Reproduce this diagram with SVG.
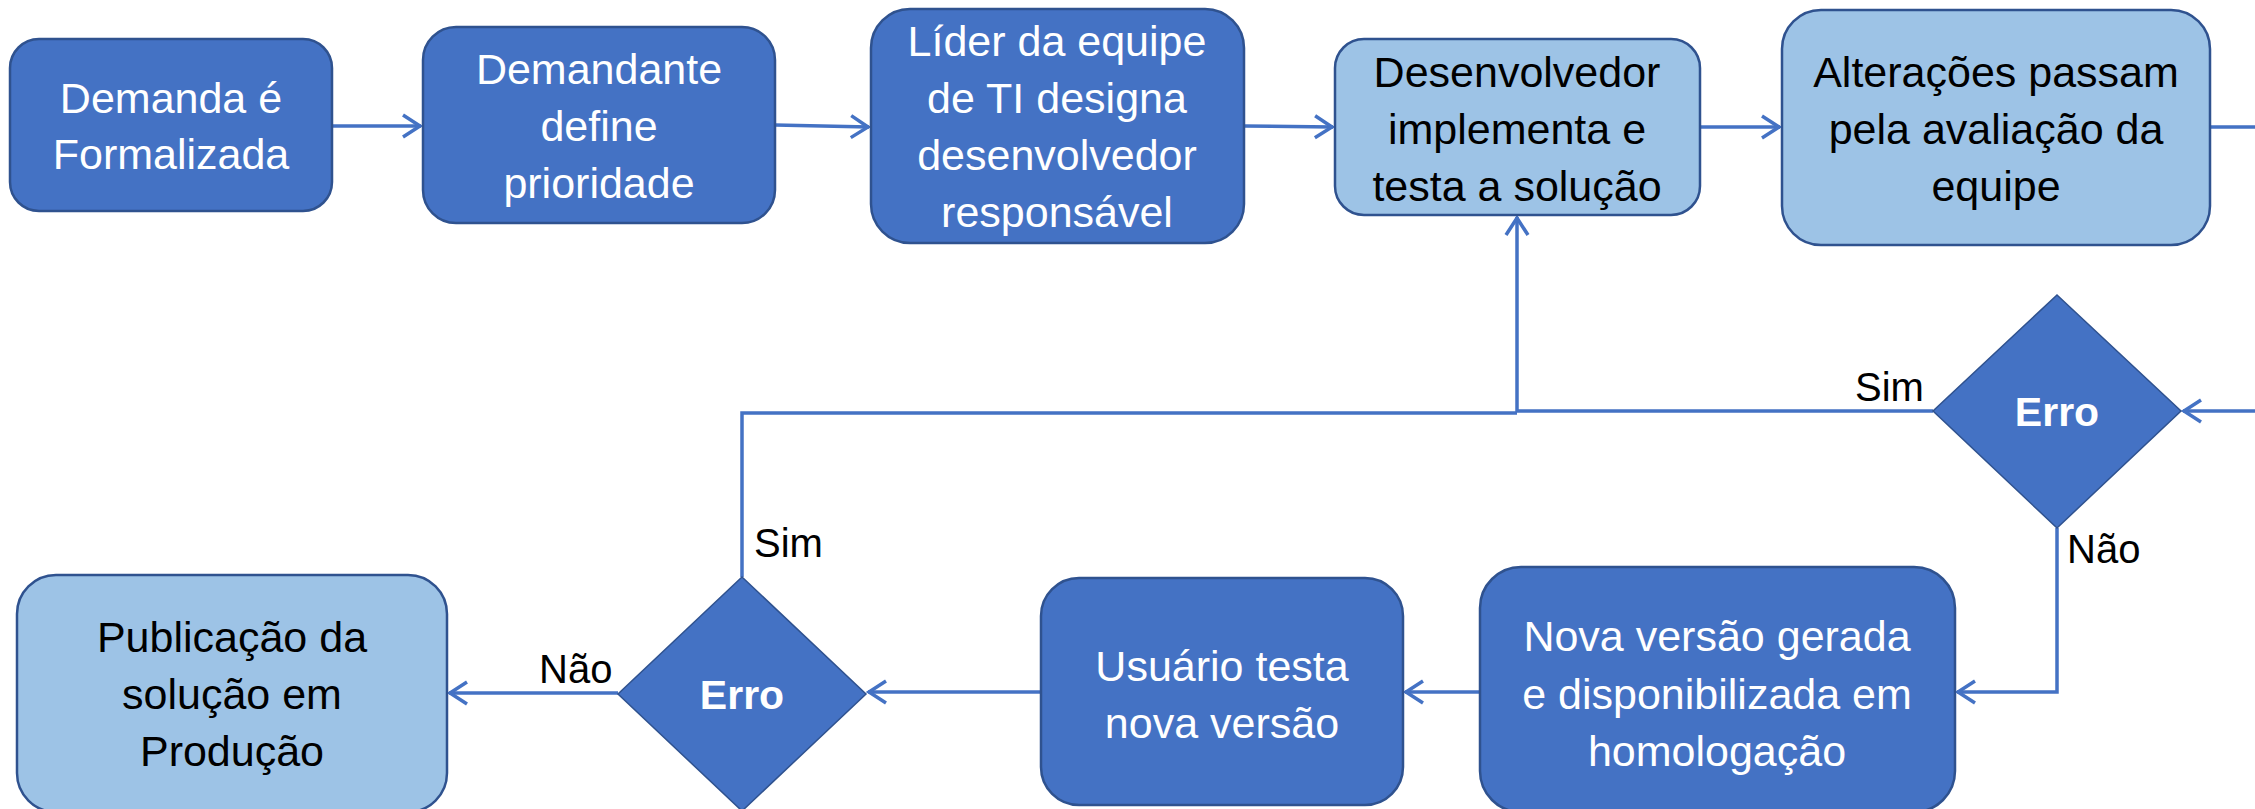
<svg xmlns="http://www.w3.org/2000/svg" width="2255" height="809" viewBox="0 0 2255 809">
<defs>
<style>
.dark{fill:#4472C4;stroke:#2F528F;stroke-width:2.5}
.light{fill:#9DC3E6;stroke:#2F528F;stroke-width:2.5}
.wt{font-family:"Liberation Sans",Arial,sans-serif;font-size:43px;fill:#FFFFFF;text-anchor:middle}
.bt{font-family:"Liberation Sans",Arial,sans-serif;font-size:43px;fill:#000000;text-anchor:middle}
.erro{font-family:"Liberation Sans",Arial,sans-serif;font-size:41px;font-weight:bold;fill:#FFFFFF;text-anchor:middle}
.lbl{font-family:"Liberation Sans",Arial,sans-serif;font-size:40px;fill:#000000}
.conn{fill:none;stroke:#4472C4;stroke-width:3.5}
</style>
<marker id="arr" markerUnits="userSpaceOnUse" markerWidth="24" markerHeight="28" viewBox="0 0 24 28" refX="20" refY="14" orient="auto">
<path d="M2,3 L19,14 L2,25" fill="none" stroke="#4472C4" stroke-width="3.5"/>
</marker>
</defs>
<rect width="2255" height="809" fill="#FFFFFF"/>

<g id="connectors">
<path class="conn" d="M332,126 H421" marker-end="url(#arr)"/>
<path class="conn" d="M775,125 L869,127" marker-end="url(#arr)"/>
<path class="conn" d="M1244,126 L1333,127" marker-end="url(#arr)"/>
<path class="conn" d="M1700,127 H1780" marker-end="url(#arr)"/>
<path class="conn" d="M2210,127 H2280 V411 H2183" marker-end="url(#arr)"/>
<path class="conn" d="M1933,411 H1517 V217" marker-end="url(#arr)"/>
<path class="conn" d="M742,577 V413 H1517"/>
<path class="conn" d="M2057,528 V692 H1957" marker-end="url(#arr)"/>
<path class="conn" d="M1480,692 H1405" marker-end="url(#arr)"/>
<path class="conn" d="M1041,692 H868" marker-end="url(#arr)"/>
<path class="conn" d="M618,693 H449" marker-end="url(#arr)"/>
</g>

<g id="n1">
<rect class="dark" x="10" y="39" width="322" height="172" rx="29"/>
<text class="wt" x="171" y="113">Demanda é</text>
<text class="wt" x="171" y="169">Formalizada</text>
</g>
<g id="n2">
<rect class="dark" x="423" y="27" width="352" height="196" rx="33"/>
<text class="wt" x="599" y="84">Demandante</text>
<text class="wt" x="599" y="141">define</text>
<text class="wt" x="599" y="198">prioridade</text>
</g>
<g id="n3">
<rect class="dark" x="871" y="9" width="373" height="234" rx="39"/>
<text class="wt" x="1057" y="56">Líder da equipe</text>
<text class="wt" x="1057" y="113">de TI designa</text>
<text class="wt" x="1057" y="170">desenvolvedor</text>
<text class="wt" x="1057" y="227">responsável</text>
</g>
<g id="n4">
<rect class="light" x="1335" y="39" width="365" height="176" rx="29"/>
<text class="bt" x="1517" y="87">Desenvolvedor</text>
<text class="bt" x="1517" y="144">implementa e</text>
<text class="bt" x="1517" y="201">testa a solução</text>
</g>
<g id="n5">
<rect class="light" x="1782" y="10" width="428" height="235" rx="39"/>
<text class="bt" x="1996" y="87">Alterações passam</text>
<text class="bt" x="1996" y="144">pela avaliação da</text>
<text class="bt" x="1996" y="201">equipe</text>
</g>
<g id="d1">
<polygon class="dark" points="2057,295 2181,411 2057,528 1933,411" style="stroke-width:1.5"/>
<text class="erro" x="2057" y="426">Erro</text>
</g>
<g id="n6">
<rect class="dark" x="1480" y="567" width="475" height="245" rx="41"/>
<text class="wt" x="1717" y="651">Nova versão gerada</text>
<text class="wt" x="1717" y="709">e disponibilizada em</text>
<text class="wt" x="1717" y="766">homologação</text>
</g>
<g id="n7">
<rect class="dark" x="1041" y="578" width="362" height="227" rx="38"/>
<text class="wt" x="1222" y="681">Usuário testa</text>
<text class="wt" x="1222" y="738">nova versão</text>
</g>
<g id="d2">
<polygon class="dark" points="742,577 866,694 742,811 618,694" style="stroke-width:1.5"/>
<text class="erro" x="742" y="709">Erro</text>
</g>
<g id="n8">
<rect class="light" x="17" y="575" width="430" height="237" rx="39"/>
<text class="bt" x="232" y="652">Publicação da</text>
<text class="bt" x="232" y="709">solução em</text>
<text class="bt" x="232" y="766">Produção</text>
</g>

<g id="labels">
<text class="lbl" x="1855" y="401">Sim</text>
<text class="lbl" x="2067" y="563">Não</text>
<text class="lbl" x="754" y="557">Sim</text>
<text class="lbl" x="539" y="683">Não</text>
</g>
</svg>
